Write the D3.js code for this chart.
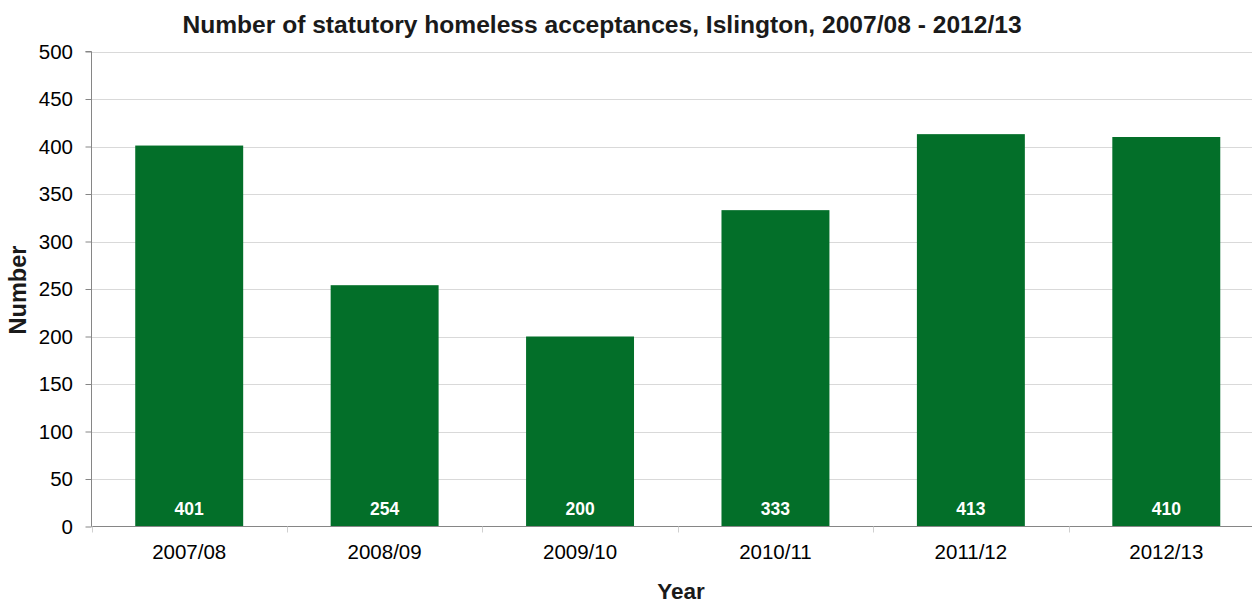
<!DOCTYPE html>
<html>
<head>
<meta charset="utf-8">
<script src="https://cdn.jsdelivr.net/npm/d3@7"></script>
<style>
  html, body { margin: 0; padding: 0; background: #fff; }
  svg { display: block; font-family: "Liberation Sans", Arial, sans-serif; }
</style>
</head>
<body>
<svg id="chart" width="1252" height="604"></svg>
<script>
// Statutory homeless acceptances per financial year
const years = ["2007/08", "2008/09", "2009/10", "2010/11", "2011/12", "2012/13"];
const acceptances = [401, 254, 200, 333, 413, 410];
const yTicks = [0, 50, 100, 150, 200, 250, 300, 350, 400, 450, 500];

const svg = d3.select("#chart");
const plotL = 91.5, plotR = 1264, plotT = 51.5, plotB = 526.5;

const x = d3.scaleBand().domain(years).range([plotL, plotR])
  .paddingInner(0.4476).paddingOuter(0.2238);
const y = d3.scaleLinear().domain([0, 500]).range([plotB, plotT]);

// Horizontal gridlines
svg.append("g").selectAll("line").data(yTicks.filter(d => d > 0)).join("line")
  .attr("x1", plotL).attr("x2", plotR)
  .attr("y1", d => Math.round(y(d)) + 0.5).attr("y2", d => Math.round(y(d)) + 0.5)
  .attr("stroke", "#d9d9d9").attr("stroke-width", 1);

// Bars
svg.append("g").selectAll("rect").data(years).join("rect")
  .attr("x", d => x(d)).attr("width", x.bandwidth())
  .attr("y", (d, i) => y(acceptances[i]))
  .attr("height", (d, i) => plotB - y(acceptances[i]))
  .attr("fill", "#036f29");

// Value labels inside bar bases
svg.append("g").selectAll("text").data(years).join("text")
  .attr("x", d => x(d) + x.bandwidth() / 2).attr("y", 515)
  .attr("text-anchor", "middle").attr("fill", "#fff")
  .attr("font-size", 17.5).attr("font-weight", "bold")
  .text((d, i) => acceptances[i]);

// Y axis
const yAxis = d3.axisLeft(y).tickValues(yTicks).tickSize(6).tickPadding(12.5);
const gy = svg.append("g").attr("transform", `translate(${plotL},0)`).call(yAxis);
gy.select(".domain").attr("stroke", "#868686").attr("d", `M-6,${plotT}H0V${plotB}`);
gy.selectAll(".tick line").attr("stroke", "#868686");
gy.selectAll(".tick text").attr("font-size", 20.5).attr("fill", "#000")
  .attr("font-family", "Liberation Sans, Arial, sans-serif");

// X axis: category boundary ticks
const gx = svg.append("g");
gx.append("line").attr("x1", plotL).attr("x2", plotR)
  .attr("y1", plotB).attr("y2", plotB).attr("stroke", "#868686");
const step = x.step();
gx.selectAll(".bt").data(d3.range(years.length + 1)).join("line")
  .attr("x1", i => Math.round(plotL + i * step) + 0.5)
  .attr("x2", i => Math.round(plotL + i * step) + 0.5)
  .attr("y1", plotB).attr("y2", plotB + 6)
  .attr("stroke", "#d0d0d0");
gx.selectAll("text").data(years).join("text")
  .attr("x", d => x(d) + x.bandwidth() / 2).attr("y", 559)
  .attr("text-anchor", "middle").attr("font-size", 20.5).attr("fill", "#000")
  .text(d => d);

// Titles
svg.append("text").attr("x", 602).attr("y", 33).attr("text-anchor", "middle")
  .attr("font-size", 24.6).attr("font-weight", "bold").attr("fill", "#1a1a1a")
  .text("Number of statutory homeless acceptances, Islington, 2007/08 - 2012/13");
svg.append("text").attr("x", 681).attr("y", 599).attr("text-anchor", "middle")
  .attr("font-size", 22.5).attr("font-weight", "bold").attr("fill", "#1a1a1a")
  .text("Year");
svg.append("text").attr("transform", "translate(26,290) rotate(-90)")
  .attr("text-anchor", "middle").attr("font-size", 23.5).attr("font-weight", "bold")
  .attr("fill", "#1a1a1a").text("Number");
</script>
</body>
</html>
